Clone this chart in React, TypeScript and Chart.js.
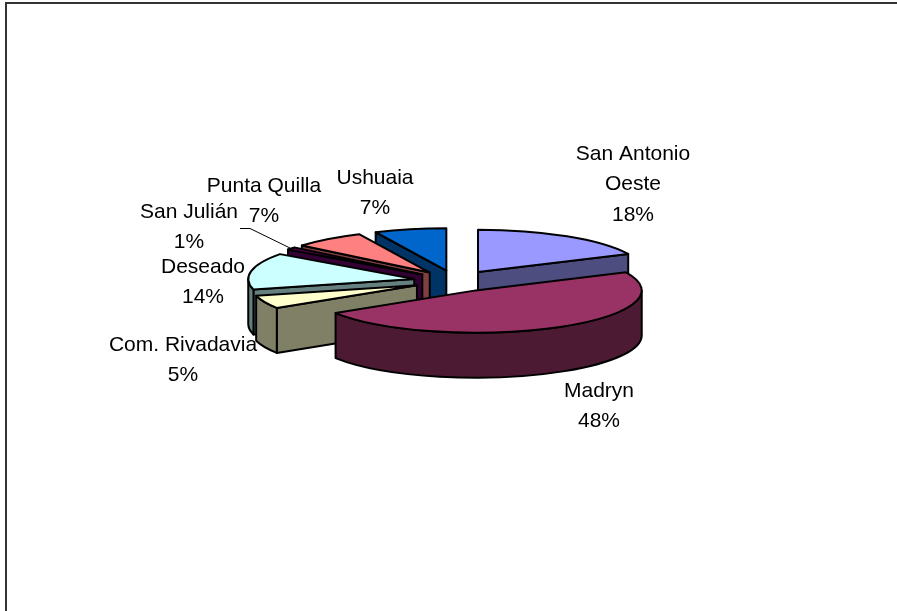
import React, { useEffect, useRef } from "react";
import { Chart, registerables } from "chart.js";

Chart.register(...registerables);

const categories = ["San Antonio Oeste", "Madryn", "Com. Rivadavia", "Deseado", "San Julián", "Punta Quilla", "Ushuaia"];
const shares = [18, 48, 5, 14, 1, 7, 7];
const topColors = ["#9999FF", "#993366", "#FFFFCC", "#CCFFFF", "#660066", "#FF8080", "#0066CC"];
const sideColors = ["#4D4D80", "#4D1A33", "#808066", "#668080", "#330033", "#804040", "#003366"];

// Painting order, back of the pie to front
const paintOrder = [6, 5, 4, 0, 3, 2, 1];
const labelLines = [["San Antonio", "Oeste", "18%"], ["Madryn", "48%"], ["Com. Rivadavia", "5%"], ["Deseado", "14%"], ["San Julián", "1%"], ["Punta Quilla", "7%"], ["Ushuaia", "7%"]];
const labelCx = [633, 599, 183, 203, 189, 264, 375];
const labelY = [154, 391, 345, 267, 212, 186, 178];

const TILT = 0.255;
const DEPTH = 45;
const LINE_GAP = 30.5;

const pie3d = {
  id: "pie3d",
  beforeDatasetsDraw(chart: any) {
    const { ctx } = chart;
    const arcs = chart.getDatasetMeta(0).data;
    ctx.save();
    ctx.lineWidth = 2;
    ctx.lineJoin = "round";
    ctx.strokeStyle = "#000";

    for (const i of paintOrder) {
      const arc = arcs[i];
      const { x, y, startAngle: a0, endAngle: a1, outerRadius: r } = arc.getProps(["x", "y", "startAngle", "endAngle", "outerRadius"], false);
      const off = arc.options.offset;
      const mid = (a0 + a1) / 2;
      const cx = x + Math.cos(mid) * off;
      const cy = y + Math.sin(mid) * off * TILT;
      const px = (a: number) => cx + Math.cos(a) * r;
      const py = (a: number) => cy + Math.sin(a) * r * TILT;

      const wall = (a: number) => {
        ctx.beginPath();
        ctx.moveTo(cx, cy);
        ctx.lineTo(px(a), py(a));
        ctx.lineTo(px(a), py(a) + DEPTH);
        ctx.lineTo(cx, cy + DEPTH);
        ctx.closePath();
        ctx.fillStyle = sideColors[i];
        ctx.fill();
        ctx.stroke();
      };
      if (Math.cos(a0) < -1e-6) wall(a0);
      if (Math.cos(a1) > 1e-6) wall(a1);

      // Outer curved wall: only the part on the near half of the rim
      const norm = (a: number) => ((a % (2 * Math.PI)) + 2 * Math.PI) % (2 * Math.PI);
      const s = norm(a0);
      const e = s + (a1 - a0);
      const ranges: [number, number][] = [];
      for (const k of [0, 2 * Math.PI]) {
        const lo = Math.max(s, k);
        const hi = Math.min(e, k + Math.PI);
        if (hi > lo) ranges.push([lo, hi]);
      }
      for (const [lo, hi] of ranges) {
        ctx.beginPath();
        ctx.ellipse(cx, cy, r, r * TILT, 0, lo, hi);
        ctx.ellipse(cx, cy + DEPTH, r, r * TILT, 0, hi, lo, true);
        ctx.closePath();
        ctx.fillStyle = sideColors[i];
        ctx.fill();
        ctx.stroke();
      }

      // Top face
      ctx.beginPath();
      ctx.moveTo(cx, cy);
      ctx.ellipse(cx, cy, r, r * TILT, 0, a0, a1);
      ctx.closePath();
      ctx.fillStyle = topColors[i];
      ctx.fill();
      ctx.stroke();
    }
    ctx.restore();
    return false;
  },
  afterDraw(chart: any) {
    const { ctx } = chart;
    ctx.save();
    // Leader line of San Julián
    ctx.strokeStyle = "#000";
    ctx.lineWidth = 1;
    ctx.beginPath();
    ctx.moveTo(240, 228.5);
    ctx.lineTo(250, 228.5);
    ctx.lineTo(290, 248);
    ctx.stroke();

    ctx.fillStyle = "#000";
    ctx.font = "21px 'Liberation Sans', Arial, sans-serif";
    ctx.textAlign = "center";
    ctx.textBaseline = "middle";
    labelLines.forEach((lines, i) => {
      lines.forEach((t, j) => ctx.fillText(t, labelCx[i], labelY[i] + j * LINE_GAP));
    });
    ctx.restore();
  },
};

export default function App() {
  const ref = useRef<HTMLCanvasElement>(null);
  useEffect(() => {
    document.body.style.margin = "0";
    document.body.style.background = "#fff";
    const chart = new Chart(ref.current!, {
      type: "pie",
      data: {
        labels: categories,
        datasets: [{
          data: shares,
          backgroundColor: topColors,
          borderColor: "#000",
          borderWidth: 0,
          offset: 42,
          radius: 166,
        } as any],
      },
      options: {
        animation: false,
        responsive: false,
        layout: { padding: { left: 14, right: 0, top: 0, bottom: 49 } },
        plugins: { legend: { display: false }, tooltip: { enabled: false } },
      },
      plugins: [pie3d],
    });
    return () => chart.destroy();
  }, []);
  return (
    <div style={{ position: "relative", width: 897, height: 611, overflow: "hidden", background: "#fff" }}>
      <canvas ref={ref} width={897} height={611} style={{ display: "block" }} />
      <div style={{ position: "absolute", left: 5, top: 2, width: 900, height: 700, boxSizing: "border-box", borderLeft: "2px solid #333", borderTop: "2px solid #333" }} />
    </div>
  );
}
